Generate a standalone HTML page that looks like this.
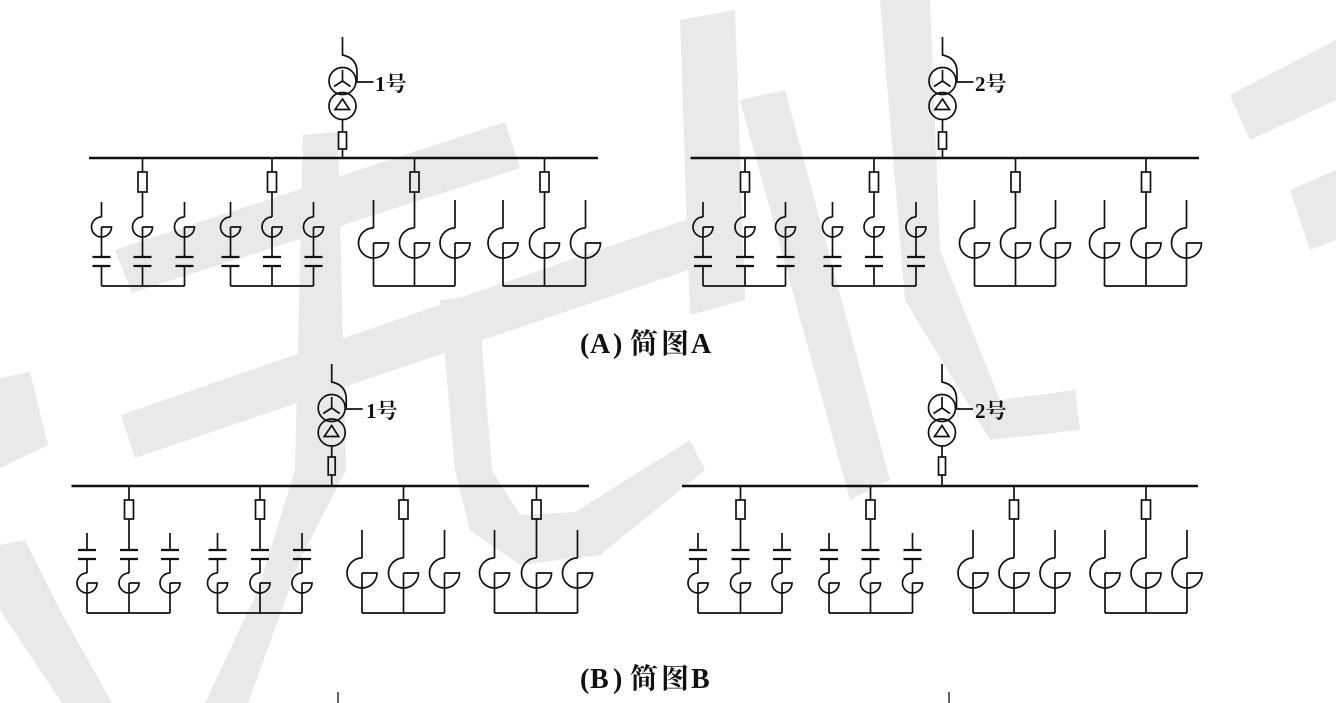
<!DOCTYPE html>
<html>
<head>
<meta charset="utf-8">
<style>
html,body{margin:0;padding:0;background:#fff;}
body{width:1336px;height:703px;overflow:hidden;}
svg{display:block;}
.t{font-family:"Liberation Serif","Noto Serif CJK SC","Noto Sans CJK SC",serif;font-weight:bold;fill:#111;}
</style>
</head>
<body>
<svg width="1336" height="703" viewBox="0 0 1336 703" xmlns="http://www.w3.org/2000/svg">
<rect width="1336" height="703" fill="#fff"/>
<!-- watermark -->
<g fill="#e9e9e9" stroke="none">
  <polygon points="0,378 30,372 48,445 0,468"/>
  <polygon points="0,545 25,540 60,610 112,703 62,703 20,640 0,610"/>
  <polygon points="115,250 505,122 520,168 132,293"/>
  <polygon points="121,415 700,215 712,262 135,458"/>
  <polygon points="303,135 338,132 346,470 300,560 248,703 205,703 258,590 295,470"/>
  <polygon points="440,300 478,295 492,470 520,515 575,512 690,440 705,470 600,555 520,565 470,530 455,470"/>
  <polygon points="680,20 735,10 745,300 690,315"/>
  <polygon points="740,100 785,90 890,480 850,500"/>
  <polygon points="880,0 930,0 940,250 1000,400 1075,390 1080,430 990,440 905,300"/>
  <polygon points="1230,95 1336,40 1336,100 1250,140"/>
  <polygon points="1290,190 1336,170 1336,240 1310,250"/>
</g>

<defs>
  <g id="as">
    <path d="M0,217 A10,10 0 0 0 0,237"/>
    <path d="M0,227 H10 A10,10 0 0 1 0,237"/>
    <line x1="0" y1="227" x2="0" y2="257"/>
    <line x1="-9" y1="257" x2="9" y2="257" stroke-width="2.2"/>
    <line x1="-9" y1="266" x2="9" y2="266" stroke-width="2.2"/>
    <line x1="0" y1="266" x2="0" y2="286"/>
  </g>
  <g id="asT"><line x1="0" y1="202" x2="0" y2="217"/></g>
  <g id="asM">
    <line x1="0" y1="158" x2="0" y2="172"/>
    <rect x="-4.5" y="172" width="9" height="20"/>
    <line x1="0" y1="192" x2="0" y2="217"/>
  </g>
  <g id="ab">
    <path d="M0,228 A15,15 0 0 0 0,258"/>
    <path d="M0,243 H15 A15,15 0 0 1 0,258"/>
    <line x1="0" y1="243" x2="0" y2="286"/>
  </g>
  <g id="abT"><line x1="0" y1="200" x2="0" y2="228"/></g>
  <g id="abM">
    <line x1="0" y1="158" x2="0" y2="172"/>
    <rect x="-4.5" y="172" width="9" height="20"/>
    <line x1="0" y1="192" x2="0" y2="228"/>
  </g>
  <g id="bs">
    <line x1="-9" y1="550" x2="9" y2="550" stroke-width="2.2"/>
    <line x1="-9" y1="559" x2="9" y2="559" stroke-width="2.2"/>
    <line x1="0" y1="559" x2="0" y2="573"/>
    <path d="M0,573 A10,10 0 0 0 0,593"/>
    <path d="M0,583 H10 A10,10 0 0 1 0,593"/>
    <line x1="0" y1="583" x2="0" y2="613"/>
  </g>
  <g id="bsT"><line x1="0" y1="533" x2="0" y2="550"/></g>
  <g id="bsM">
    <line x1="0" y1="486" x2="0" y2="500"/>
    <rect x="-4.5" y="500" width="9" height="19"/>
    <line x1="0" y1="519" x2="0" y2="550"/>
  </g>
  <g id="bb">
    <path d="M0,558 A15,15 0 0 0 0,588"/>
    <path d="M0,573 H15 A15,15 0 0 1 0,588"/>
    <line x1="0" y1="573" x2="0" y2="613"/>
  </g>
  <g id="bbT"><line x1="0" y1="530" x2="0" y2="558"/></g>
  <g id="bbM">
    <line x1="0" y1="486" x2="0" y2="500"/>
    <rect x="-4.5" y="500" width="9" height="19"/>
    <line x1="0" y1="519" x2="0" y2="558"/>
  </g>
  <g id="trA">
    <path d="M0,37 V55 Q14.5,58 14.5,72 V81"/>
    <circle cx="0" cy="81" r="13.5"/>
    <circle cx="0" cy="106" r="13.5"/>
    <line x1="0" y1="81" x2="0" y2="70"/>
    <line x1="0" y1="81" x2="-8.5" y2="86.5"/>
    <line x1="0" y1="81" x2="8" y2="86.5"/>
    <polygon points="0,99 -7.5,109.5 7,109.5"/>
    <line x1="14" y1="82" x2="31" y2="82"/>
    <line x1="0" y1="119.5" x2="0" y2="132"/>
    <rect x="-4" y="132" width="8" height="17"/>
    <line x1="0" y1="149" x2="0" y2="158"/>
  </g>
  <g id="trB">
    <path d="M0,364 V382 Q14.5,385 14.5,399 V408"/>
    <circle cx="0" cy="408" r="13.5"/>
    <circle cx="0" cy="432.5" r="13.5"/>
    <line x1="0" y1="408" x2="0" y2="397"/>
    <line x1="0" y1="408" x2="-8.5" y2="413.5"/>
    <line x1="0" y1="408" x2="8" y2="413.5"/>
    <polygon points="0,425.5 -7.5,436.5 7,436.5"/>
    <line x1="14" y1="409" x2="31" y2="409"/>
    <line x1="0" y1="446" x2="0" y2="457"/>
    <rect x="-3.5" y="457" width="7" height="18"/>
    <line x1="0" y1="475" x2="0" y2="486"/>
  </g>
</defs>

<g stroke="#111" stroke-width="1.7" fill="none" stroke-linecap="butt">
  <line x1="89" y1="158" x2="598" y2="158" stroke-width="2.4"/>
  <use href="#trA" x="342.5"/>
  <use href="#asT" x="101.5"/><use href="#as" x="101.5"/>
  <use href="#asM" x="142.5"/><use href="#as" x="142.5"/>
  <use href="#asT" x="184.5"/><use href="#as" x="184.5"/>
  <line x1="101.5" y1="286" x2="184.5" y2="286"/>
  <use href="#asT" x="230.5"/><use href="#as" x="230.5"/>
  <use href="#asM" x="272"/><use href="#as" x="272"/>
  <use href="#asT" x="313.5"/><use href="#as" x="313.5"/>
  <line x1="230.5" y1="286" x2="313.5" y2="286"/>
  <use href="#abT" x="373.5"/><use href="#ab" x="373.5"/>
  <use href="#abM" x="414.5"/><use href="#ab" x="414.5"/>
  <use href="#abT" x="455"/><use href="#ab" x="455"/>
  <line x1="373.5" y1="286" x2="455" y2="286"/>
  <use href="#abT" x="503"/><use href="#ab" x="503"/>
  <use href="#abM" x="544.5"/><use href="#ab" x="544.5"/>
  <use href="#abT" x="585.5"/><use href="#ab" x="585.5"/>
  <line x1="503" y1="286" x2="585.5" y2="286"/>

  <line x1="690.5" y1="158" x2="1199" y2="158" stroke-width="2.4"/>
  <use href="#trA" x="942.5"/>
  <use href="#asT" x="703"/><use href="#as" x="703"/>
  <use href="#asM" x="745"/><use href="#as" x="745"/>
  <use href="#asT" x="785.5"/><use href="#as" x="785.5"/>
  <line x1="703" y1="286" x2="785.5" y2="286"/>
  <use href="#asT" x="832.5"/><use href="#as" x="832.5"/>
  <use href="#asM" x="874"/><use href="#as" x="874"/>
  <use href="#asT" x="916"/><use href="#as" x="916"/>
  <line x1="832.5" y1="286" x2="916" y2="286"/>
  <use href="#abT" x="974.5"/><use href="#ab" x="974.5"/>
  <use href="#abM" x="1015.5"/><use href="#ab" x="1015.5"/>
  <use href="#abT" x="1055.5"/><use href="#ab" x="1055.5"/>
  <line x1="974.5" y1="286" x2="1055.5" y2="286"/>
  <use href="#abT" x="1104.5"/><use href="#ab" x="1104.5"/>
  <use href="#abM" x="1146"/><use href="#ab" x="1146"/>
  <use href="#abT" x="1186.5"/><use href="#ab" x="1186.5"/>
  <line x1="1104.5" y1="286" x2="1186.5" y2="286"/>

  <line x1="71.5" y1="486" x2="589" y2="486" stroke-width="2.4"/>
  <use href="#trB" x="331.7"/>
  <use href="#bsT" x="87"/><use href="#bs" x="87"/>
  <use href="#bsM" x="129"/><use href="#bs" x="129"/>
  <use href="#bsT" x="170"/><use href="#bs" x="170"/>
  <line x1="87" y1="613" x2="170" y2="613"/>
  <use href="#bsT" x="217.5"/><use href="#bs" x="217.5"/>
  <use href="#bsM" x="260"/><use href="#bs" x="260"/>
  <use href="#bsT" x="302"/><use href="#bs" x="302"/>
  <line x1="217.5" y1="613" x2="302" y2="613"/>
  <use href="#bbT" x="362"/><use href="#bb" x="362"/>
  <use href="#bbM" x="403.5"/><use href="#bb" x="403.5"/>
  <use href="#bbT" x="444.5"/><use href="#bb" x="444.5"/>
  <line x1="362" y1="613" x2="444.5" y2="613"/>
  <use href="#bbT" x="494.5"/><use href="#bb" x="494.5"/>
  <use href="#bbM" x="536.5"/><use href="#bb" x="536.5"/>
  <use href="#bbT" x="577.5"/><use href="#bb" x="577.5"/>
  <line x1="494.5" y1="613" x2="577.5" y2="613"/>

  <line x1="682" y1="486" x2="1198" y2="486" stroke-width="2.4"/>
  <use href="#trB" x="942"/>
  <use href="#bsT" x="698"/><use href="#bs" x="698"/>
  <use href="#bsM" x="740.5"/><use href="#bs" x="740.5"/>
  <use href="#bsT" x="782"/><use href="#bs" x="782"/>
  <line x1="698" y1="613" x2="782" y2="613"/>
  <use href="#bsT" x="829"/><use href="#bs" x="829"/>
  <use href="#bsM" x="870.5"/><use href="#bs" x="870.5"/>
  <use href="#bsT" x="912.5"/><use href="#bs" x="912.5"/>
  <line x1="829" y1="613" x2="912.5" y2="613"/>
  <use href="#bbT" x="973"/><use href="#bb" x="973"/>
  <use href="#bbM" x="1014"/><use href="#bb" x="1014"/>
  <use href="#bbT" x="1055"/><use href="#bb" x="1055"/>
  <line x1="973" y1="613" x2="1055" y2="613"/>
  <use href="#bbT" x="1105"/><use href="#bb" x="1105"/>
  <use href="#bbM" x="1146"/><use href="#bb" x="1146"/>
  <use href="#bbT" x="1187"/><use href="#bb" x="1187"/>
  <line x1="1105" y1="613" x2="1187" y2="613"/>

  <line x1="338" y1="692" x2="338" y2="703" stroke-width="1.3"/>
  <line x1="949" y1="692" x2="949" y2="703" stroke-width="1.3"/>
</g>

<text class="t" x="375" y="91" font-size="21">1号</text>
<text class="t" x="975" y="91" font-size="21">2号</text>
<text class="t" x="366" y="418" font-size="21">1号</text>
<text class="t" x="975" y="418" font-size="21">2号</text>

<text class="t" font-size="28" x="580 590 613 630 661 691" y="353">(A)简图A</text>
<text class="t" font-size="28" x="580 590 613 630 661 691" y="688">(B)简图B</text>
</svg>
</body>
</html>
